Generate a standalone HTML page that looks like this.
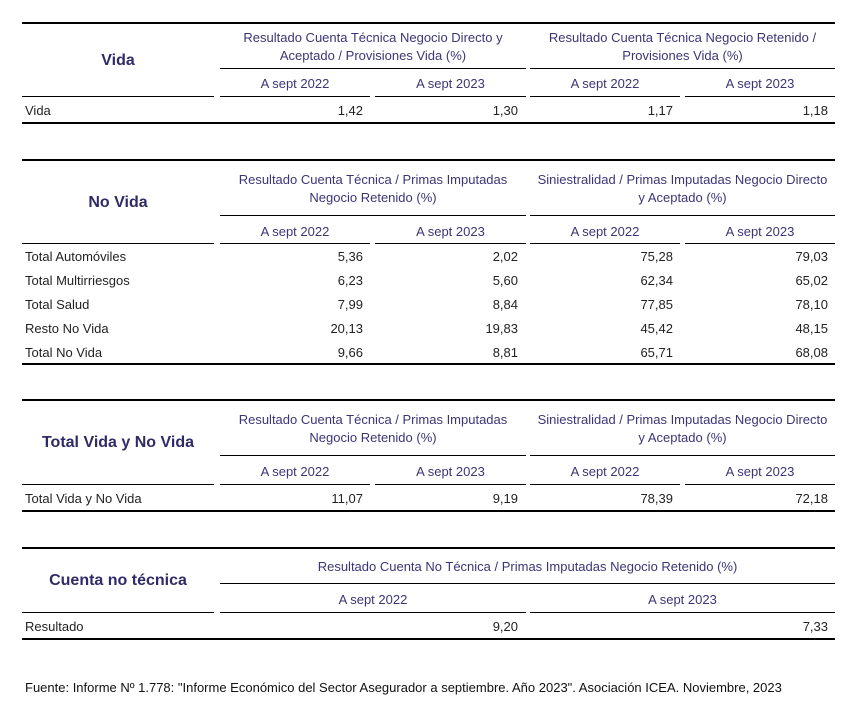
<!DOCTYPE html>
<html><head><meta charset="utf-8"><style>
body{margin:0;background:#fff;width:861px;height:712px;position:relative;overflow:hidden;font-family:"Liberation Sans",sans-serif;font-size:13px;}
div{position:absolute;}
.k{background:#000;height:2px;left:22px;width:813px;}
.l{background:#000;height:1px;}
.h{color:#3b3577;text-align:center;line-height:18px;margin-top:1px;}
.ti{color:#2f2b66;font-weight:bold;font-size:16px;text-align:center;left:22px;width:192px;line-height:20px;margin-top:1px;}
.d{color:#222;line-height:16px;margin-top:1px;}
.r{text-align:right;}
</style></head><body>

<!-- Table 1 -->
<div class="k" style="top:22px"></div>
<div class="ti" style="top:50px">Vida</div>
<div class="h" style="left:220px;width:306px;top:28px">Resultado Cuenta Técnica Negocio Directo y<br>Aceptado / Provisiones Vida (%)</div>
<div class="h" style="left:530px;width:305px;top:28px">Resultado Cuenta Técnica Negocio Retenido /<br>Provisiones Vida (%)</div>
<div class="l" style="top:68px;left:220px;width:306px"></div>
<div class="l" style="top:68px;left:530px;width:305px"></div>
<div class="h" style="left:220px;width:150px;top:74px">A sept 2022</div>
<div class="h" style="left:375px;width:151px;top:74px">A sept 2023</div>
<div class="h" style="left:530px;width:150px;top:74px">A sept 2022</div>
<div class="h" style="left:685px;width:150px;top:74px">A sept 2023</div>
<div class="l" style="top:96px;left:22px;width:192px"></div>
<div class="l" style="top:96px;left:220px;width:150px"></div>
<div class="l" style="top:96px;left:375px;width:151px"></div>
<div class="l" style="top:96px;left:530px;width:150px"></div>
<div class="l" style="top:96px;left:685px;width:150px"></div>
<div class="d" style="left:25px;top:102px">Vida</div>
<div class="d r" style="left:220px;width:143px;top:102px">1,42</div>
<div class="d r" style="left:375px;width:143px;top:102px">1,30</div>
<div class="d r" style="left:530px;width:143px;top:102px">1,17</div>
<div class="d r" style="left:685px;width:143px;top:102px">1,18</div>
<div class="k" style="top:122px"></div>

<!-- Table 2 -->
<div class="k" style="top:159px"></div>
<div class="ti" style="top:192px">No Vida</div>
<div class="h" style="left:220px;width:306px;top:170px">Resultado Cuenta Técnica / Primas Imputadas<br>Negocio Retenido (%)</div>
<div class="h" style="left:530px;width:305px;top:170px">Siniestralidad / Primas Imputadas Negocio Directo<br>y Aceptado (%)</div>
<div class="l" style="top:215px;left:220px;width:306px"></div>
<div class="l" style="top:215px;left:530px;width:305px"></div>
<div class="h" style="left:220px;width:150px;top:222px">A sept 2022</div>
<div class="h" style="left:375px;width:151px;top:222px">A sept 2023</div>
<div class="h" style="left:530px;width:150px;top:222px">A sept 2022</div>
<div class="h" style="left:685px;width:150px;top:222px">A sept 2023</div>
<div class="l" style="top:243px;left:22px;width:192px"></div>
<div class="l" style="top:243px;left:220px;width:150px"></div>
<div class="l" style="top:243px;left:375px;width:151px"></div>
<div class="l" style="top:243px;left:530px;width:150px"></div>
<div class="l" style="top:243px;left:685px;width:150px"></div>

<div class="d" style="left:25px;top:248px">Total Automóviles</div>
<div class="d r" style="left:220px;width:143px;top:248px">5,36</div>
<div class="d r" style="left:375px;width:143px;top:248px">2,02</div>
<div class="d r" style="left:530px;width:143px;top:248px">75,28</div>
<div class="d r" style="left:685px;width:143px;top:248px">79,03</div>

<div class="d" style="left:25px;top:272px">Total Multirriesgos</div>
<div class="d r" style="left:220px;width:143px;top:272px">6,23</div>
<div class="d r" style="left:375px;width:143px;top:272px">5,60</div>
<div class="d r" style="left:530px;width:143px;top:272px">62,34</div>
<div class="d r" style="left:685px;width:143px;top:272px">65,02</div>

<div class="d" style="left:25px;top:296px">Total Salud</div>
<div class="d r" style="left:220px;width:143px;top:296px">7,99</div>
<div class="d r" style="left:375px;width:143px;top:296px">8,84</div>
<div class="d r" style="left:530px;width:143px;top:296px">77,85</div>
<div class="d r" style="left:685px;width:143px;top:296px">78,10</div>

<div class="d" style="left:25px;top:320px">Resto No Vida</div>
<div class="d r" style="left:220px;width:143px;top:320px">20,13</div>
<div class="d r" style="left:375px;width:143px;top:320px">19,83</div>
<div class="d r" style="left:530px;width:143px;top:320px">45,42</div>
<div class="d r" style="left:685px;width:143px;top:320px">48,15</div>

<div class="d" style="left:25px;top:344px">Total No Vida</div>
<div class="d r" style="left:220px;width:143px;top:344px">9,66</div>
<div class="d r" style="left:375px;width:143px;top:344px">8,81</div>
<div class="d r" style="left:530px;width:143px;top:344px">65,71</div>
<div class="d r" style="left:685px;width:143px;top:344px">68,08</div>
<div class="k" style="top:363px"></div>

<!-- Table 3 -->
<div class="k" style="top:399px"></div>
<div class="ti" style="top:432px">Total Vida y No Vida</div>
<div class="h" style="left:220px;width:306px;top:410px">Resultado Cuenta Técnica / Primas Imputadas<br>Negocio Retenido (%)</div>
<div class="h" style="left:530px;width:305px;top:410px">Siniestralidad / Primas Imputadas Negocio Directo<br>y Aceptado (%)</div>
<div class="l" style="top:455px;left:220px;width:306px"></div>
<div class="l" style="top:455px;left:530px;width:305px"></div>
<div class="h" style="left:220px;width:150px;top:462px">A sept 2022</div>
<div class="h" style="left:375px;width:151px;top:462px">A sept 2023</div>
<div class="h" style="left:530px;width:150px;top:462px">A sept 2022</div>
<div class="h" style="left:685px;width:150px;top:462px">A sept 2023</div>
<div class="l" style="top:484px;left:22px;width:192px"></div>
<div class="l" style="top:484px;left:220px;width:150px"></div>
<div class="l" style="top:484px;left:375px;width:151px"></div>
<div class="l" style="top:484px;left:530px;width:150px"></div>
<div class="l" style="top:484px;left:685px;width:150px"></div>
<div class="d" style="left:25px;top:490px">Total Vida y No Vida</div>
<div class="d r" style="left:220px;width:143px;top:490px">11,07</div>
<div class="d r" style="left:375px;width:143px;top:490px">9,19</div>
<div class="d r" style="left:530px;width:143px;top:490px">78,39</div>
<div class="d r" style="left:685px;width:143px;top:490px">72,18</div>
<div class="k" style="top:510px"></div>

<!-- Table 4 -->
<div class="k" style="top:547px"></div>
<div class="ti" style="top:570px">Cuenta no técnica</div>
<div class="h" style="left:220px;width:615px;top:557px">Resultado Cuenta No Técnica / Primas Imputadas Negocio Retenido (%)</div>
<div class="l" style="top:583px;left:220px;width:615px"></div>
<div class="h" style="left:220px;width:306px;top:590px">A sept 2022</div>
<div class="h" style="left:530px;width:305px;top:590px">A sept 2023</div>
<div class="l" style="top:612px;left:22px;width:192px"></div>
<div class="l" style="top:612px;left:220px;width:306px"></div>
<div class="l" style="top:612px;left:530px;width:305px"></div>
<div class="d" style="left:25px;top:618px">Resultado</div>
<div class="d r" style="left:220px;width:298px;top:618px">9,20</div>
<div class="d r" style="left:530px;width:298px;top:618px">7,33</div>
<div class="k" style="top:638px"></div>

<div class="d" style="left:25px;top:679px;color:#111">Fuente: Informe Nº 1.778: "Informe Económico del Sector Asegurador a septiembre. Año 2023". Asociación ICEA. Noviembre, 2023</div>
</body></html>
